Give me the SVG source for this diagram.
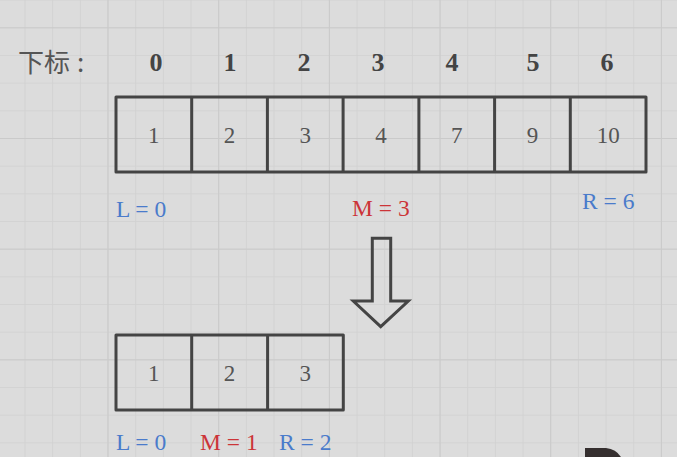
<svg xmlns="http://www.w3.org/2000/svg" width="677" height="457" viewBox="0 0 677 457">
<style>
.cell{fill:none;stroke:#444;stroke-width:3;stroke-linejoin:round}
.num{font-family:"Liberation Serif","Times New Roman",serif;font-size:23px;fill:#555;text-anchor:middle}
.idx{font-family:"Liberation Serif","Times New Roman",serif;font-size:26px;font-weight:bold;fill:#444;text-anchor:middle}
.lab{font-family:"Liberation Serif","Times New Roman",serif;font-size:23.5px}
.blue{fill:#4a7bcb}
.red{fill:#cc3438}
</style>
<defs>
<pattern id="minor" patternUnits="userSpaceOnUse" x="24.5" y="27.3" width="27.67" height="27.67">
<path d="M0,0 H27.67 M0,0 V27.67" stroke="#d1d1d1" stroke-width="1.6" fill="none"/>
</pattern>
<pattern id="major" patternUnits="userSpaceOnUse" x="107.5" y="27.3" width="110.68" height="110.68">
<path d="M0,0 H110.68 M0,0 V110.68" stroke="#cacaca" stroke-width="2" fill="none"/>
</pattern>
</defs>
<rect width="677" height="457" fill="#dcdcdc"/>
<rect width="677" height="457" fill="url(#minor)"/>
<rect width="677" height="457" fill="url(#major)"/>

<g id="index-label">
<text x="18" y="72" font-family="'Noto Sans CJK SC',sans-serif" font-size="26" font-weight="normal" fill="#555">下标<tspan dx="7">:</tspan></text>
</g>
<g id="indices">
<text class="idx" x="156" y="71">0</text>
<text class="idx" x="230" y="71">1</text>
<text class="idx" x="304" y="71">2</text>
<text class="idx" x="378" y="71">3</text>
<text class="idx" x="452" y="71">4</text>
<text class="idx" x="533" y="71">5</text>
<text class="idx" x="607" y="71">6</text>
</g>

<g id="array-top">
<rect class="cell" x="116" y="97" width="530" height="75"/>
<path class="cell" d="M191.7,97V172M267.4,97V172M343.1,97V172M418.9,97V172M494.6,97V172M570.3,97V172"/>
<text class="num" x="153.8" y="143">1</text>
<text class="num" x="229.5" y="143">2</text>
<text class="num" x="305.3" y="143">3</text>
<text class="num" x="381" y="143">4</text>
<text class="num" x="456.7" y="143">7</text>
<text class="num" x="532.4" y="143">9</text>
<text class="num" x="608.2" y="143">10</text>
</g>

<g id="labels-top">
<text class="lab blue" x="116" y="217">L = 0</text>
<text class="lab red" x="352" y="216">M = 3</text>
<text class="lab blue" x="582" y="209">R = 6</text>
</g>

<g id="connectors">
<path d="M372.3,238.3 H390.7 V301 H408.3 L380.7,326.7 L353.3,301 H372.3 Z" fill="none" stroke="#444" stroke-width="3" stroke-linejoin="miter"/>
</g>

<g id="array-bottom">
<rect class="cell" x="116" y="335" width="227.3" height="75"/>
<path class="cell" d="M191.7,335V410M267.6,335V410"/>
<text class="num" x="153.8" y="381">1</text>
<text class="num" x="229.5" y="381">2</text>
<text class="num" x="305.3" y="381">3</text>
</g>

<g id="labels-bottom">
<text class="lab blue" x="116" y="450">L = 0</text>
<text class="lab red" x="200" y="450">M = 1</text>
<text class="lab blue" x="279" y="450">R = 2</text>
</g>

<path d="M585,448 H606 Q616,449 621,457 H585 Z" fill="#352f2f"/>
</svg>
